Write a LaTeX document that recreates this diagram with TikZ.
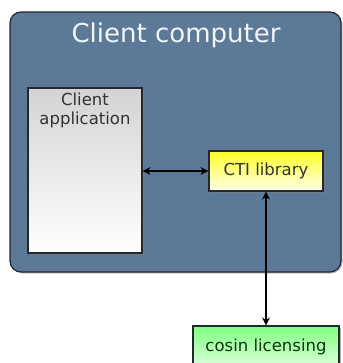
\documentclass[tikz,border=0pt]{standalone}
\usepackage{fontspec}
\setmainfont{DejaVu Sans}
\usetikzlibrary{arrows.meta,positioning,shadows}
\definecolor{slate}{RGB}{92,121,152}
\definecolor{edge}{RGB}{35,40,48}
\definecolor{labelgray}{RGB}{50,50,50}
\begin{document}
\begin{tikzpicture}[
    x=1pt, y=-1pt,
    font=\fontsize{16.5}{19}\selectfont,
    host/.style={draw=edge, fill=slate, rounded corners=11pt, line width=1.2pt, minimum width=331pt, minimum height=260pt, drop shadow={shadow xshift=1.5pt, shadow yshift=-1.5pt, opacity=0.5}},
    box/.style={draw=edge, line width=1.2pt, inner sep=0pt, text=labelgray, drop shadow={shadow xshift=1.5pt, shadow yshift=-1.5pt, opacity=0.6}},
    link/.style={{Stealth[length=8pt,width=8pt]}-{Stealth[length=8pt,width=8pt]}, line width=1.6pt, draw=black}
]
\useasboundingbox (0,0) rectangle (342,363);
\node[host] (pc) at (175.5,142) {};
\node[text=white!92!slate, font=\fontsize{26}{30}\selectfont] (title) at (176,35) {Client computer};

\node[box, shading=axis, top color=black!17, bottom color=white, minimum width=114pt, minimum height=165pt] (app) at (85,170.5) {};
\node[text=labelgray, align=center, below=5pt of app.north, inner sep=0pt] (apptxt) {Client\\application};

\node[box, shading=axis, top color=yellow!85!white, bottom color=yellow!8, minimum width=114pt, minimum height=40pt] (cti) at (266,171) {CTI library};
\node[box, shading=axis, top color=green!50!white, bottom color=green!6, minimum width=146pt, minimum height=50pt] (lic) at (266,351) {};
\node[text=labelgray!60!green!40!black, inner sep=0pt] (lictxt) at (266,347) {cosin licensing};

\draw[link] (app.east |- cti.west) -- (cti.west);
\draw[link] (cti.south) -- (lic.north);
\end{tikzpicture}
\end{document}
